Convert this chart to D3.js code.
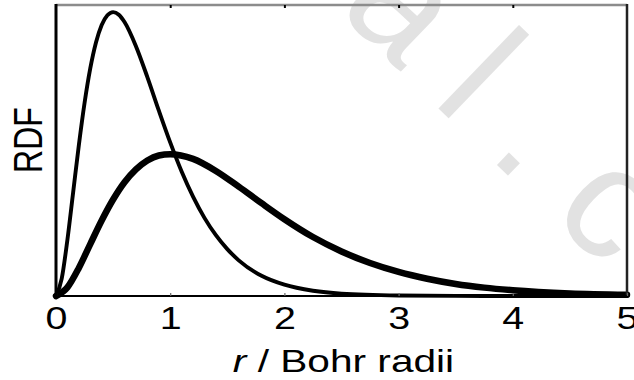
<!DOCTYPE html>
<html>
<head>
<meta charset="utf-8">
<script src="https://cdn.jsdelivr.net/npm/d3@7/dist/d3.min.js"></script>
<style>
  html, body { margin: 0; padding: 0; background: #fff; }
  svg { display: block; }
  text { font-family: "Liberation Sans", Arial, Helvetica, sans-serif; }
</style>
</head>
<body>
<svg id="chart" width="634" height="380"></svg>
<script>
// Radial distribution functions, r in Bohr radii
const rThin = [0, 0.05, 0.1, 0.15, 0.2, 0.25, 0.3, 0.35, 0.4, 0.45, 0.5, 0.55, 0.6, 0.7, 0.8, 0.9, 1.0, 1.1, 1.2, 1.3, 1.4, 1.5, 1.6, 1.8, 2.0, 2.25, 2.5, 3.0, 3.5, 4.0, 5.0];
const rdfThin = [0, 0.066, 0.215, 0.395, 0.575, 0.736, 0.868, 0.967, 1.034, 1.071, 1.083, 1.073, 1.045, 0.953, 0.835, 0.708, 0.586, 0.475, 0.379, 0.298, 0.232, 0.179, 0.136, 0.077, 0.043, 0.020, 0.009, 0.002, 0.0003, 0, 0];

const rThick = [0, 0.1, 0.2, 0.3, 0.4, 0.5, 0.6, 0.7, 0.8, 0.9, 1.0, 1.2, 1.4, 1.6, 1.8, 2.0, 2.25, 2.5, 2.75, 3.0, 3.25, 3.5, 3.75, 4.0, 4.5, 5.0];
const rdfThick = [0, 0.033, 0.107, 0.198, 0.288, 0.368, 0.434, 0.483, 0.517, 0.536, 0.541, 0.523, 0.477, 0.417, 0.354, 0.293, 0.225, 0.170, 0.126, 0.092, 0.066, 0.046, 0.032, 0.022, 0.010, 0.005];

const xTicks = [0, 1, 2, 3, 4, 5];
const xTickLabels = ["0", "1", "2", "3", "4", "5"];
const yLabel = "RDF";
const watermark = "al.c";

const svg = d3.select("#chart");
const X0 = 56, X1 = 627, Y0 = 296, Y1 = 5;
const x = d3.scaleLinear().domain([0, 5]).range([X0, X1]);
const y = d3.scaleLinear().domain([0, 1.11]).range([Y0, Y1]);
const sx = 1.27; // horizontal widening of the lettering

// faint diagonal watermark behind the plot
svg.append("g")
  .attr("transform", "translate(336.5,10) rotate(44)")
  .append("text")
  .attr("font-size", 160)
  .attr("letter-spacing", 42)
  .attr("fill", "#e2e2e2")
  .text(watermark);

// curves
const line = d3.line().x(d => x(d[0])).y(d => y(d[1])).curve(d3.curveMonotoneX);
const thin = rThin.map((r, i) => [r, rdfThin[i]]);
const thick = rThick.map((r, i) => [r, rdfThick[i]]);

const plot = svg.append("g");
plot.append("path").datum(thick)
  .attr("d", line).attr("fill", "none")
  .attr("stroke", "#000").attr("stroke-width", 6.5)
  .attr("stroke-linejoin", "round").attr("stroke-linecap", "round");
plot.append("path").datum(thin)
  .attr("d", line).attr("fill", "none")
  .attr("stroke", "#000").attr("stroke-width", 3.9)
  .attr("stroke-linejoin", "round").attr("stroke-linecap", "round");

// frame: top (grey) and right edges
svg.append("line").attr("x1", X0).attr("x2", X1).attr("y1", Y1).attr("y2", Y1)
  .attr("stroke", "#8c8c8c").attr("stroke-width", 2.5);
svg.append("line").attr("x1", X1).attr("x2", X1).attr("y1", Y1 - 1).attr("y2", Y0)
  .attr("stroke", "#222").attr("stroke-width", 2.5);

// top ticks pointing inward
const topAxis = svg.append("g").attr("transform", `translate(0,${Y1})`)
  .call(d3.axisTop(x).tickValues(xTicks.slice(1, -1)).tickSize(-3).tickFormat(""));
topAxis.select(".domain").remove();
topAxis.selectAll(".tick line").attr("stroke", "#000").attr("stroke-width", 2);

// bottom axis
const bottomAxis = svg.append("g").attr("transform", `translate(0,${Y0})`)
  .call(d3.axisBottom(x).tickValues(xTicks).tickSize(-3).tickPadding(0)
        .tickFormat((d, i) => xTickLabels[i]));
bottomAxis.select(".domain").attr("d", `M${X0},0H${X1}`).attr("stroke", "#000").attr("stroke-width", 2);
bottomAxis.selectAll(".tick line").attr("stroke", "#666").attr("stroke-width", 1.2);
bottomAxis.selectAll(".tick text")
  .attr("y", 33).attr("dy", 0)
  .attr("font-size", 31).attr("fill", "#000")
  .attr("font-family", "Liberation Sans, Arial, sans-serif")
  .attr("transform", `scale(${sx},1)`);

// left axis line
svg.append("line").attr("x1", X0).attr("x2", X0).attr("y1", Y1 - 1).attr("y2", Y0 + 1)
  .attr("stroke", "#000").attr("stroke-width", 3);

// axis titles
const xt = svg.append("g").attr("transform", `translate(343.5,372) scale(${sx},1)`)
  .append("text").attr("text-anchor", "middle").attr("font-size", 32).attr("fill", "#000");
xt.append("tspan").attr("font-style", "italic").text("r");
xt.append("tspan").text(" / Bohr radii");

svg.append("g").attr("transform", `translate(27,140) scale(${sx},1) rotate(-90)`)
  .append("text").attr("text-anchor", "middle").attr("dy", "0.36em")
  .attr("font-size", 32).attr("fill", "#000").text(yLabel);
</script>
</body>
</html>
